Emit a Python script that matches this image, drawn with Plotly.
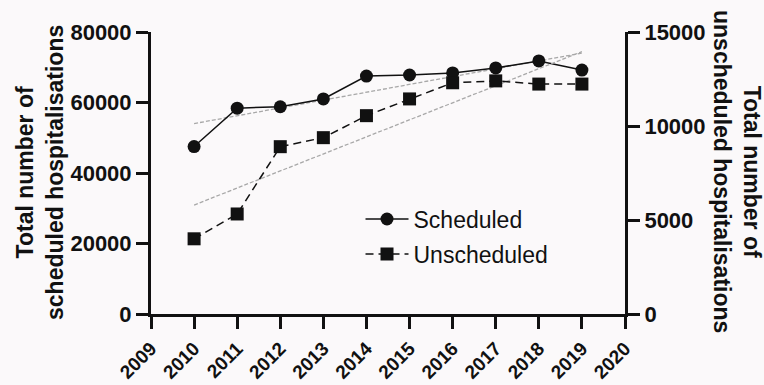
import numpy as np
import plotly.graph_objects as go

years = [2010, 2011, 2012, 2013, 2014, 2015, 2016, 2017, 2018, 2019]
scheduled = [47500, 58400, 58800, 61000, 67500, 67800, 68400, 69800, 71800, 69200]
unscheduled = [4000, 5320, 8900, 9380, 10550, 11440, 12300, 12400, 12230, 12230]
x_ticks = list(range(2009, 2021))
left_ticks = [0, 20000, 40000, 60000, 80000]
right_ticks = [0, 5000, 10000, 15000]

FONT = "Liberation Sans, Arial, sans-serif"
INK = "#111111"
BG = "#fbf9fa"

# linear trend for each series
s_fit = np.polyfit(years, scheduled, 1)
u_fit = np.polyfit(years, unscheduled, 1)
trend_x = [years[0], years[-1]]

fig = go.Figure()

fig.add_trace(go.Scatter(
    x=trend_x, y=np.polyval(s_fit, trend_x), mode="lines",
    line=dict(color="#a8a8a8", width=1.3, dash="4px,2px"),
    showlegend=False, hoverinfo="skip"))
fig.add_trace(go.Scatter(
    x=trend_x, y=np.polyval(u_fit, trend_x), mode="lines", yaxis="y2",
    line=dict(color="#a8a8a8", width=1.3, dash="4px,2px"),
    showlegend=False, hoverinfo="skip"))

fig.add_trace(go.Scatter(
    x=years, y=scheduled, name="Scheduled", mode="lines+markers",
    line=dict(color=INK, width=1.5),
    marker=dict(symbol="circle", size=13, color=INK),
    legendgroup="a"))
fig.add_trace(go.Scatter(
    x=years, y=unscheduled, name="Unscheduled", mode="lines+markers", yaxis="y2",
    line=dict(color=INK, width=1.5, dash="8px,5px"),
    marker=dict(symbol="square", size=13, color=INK),
    legendgroup="b"))

axis_common = dict(
    showgrid=False, zeroline=False, showline=True, linecolor=INK, linewidth=3,
    ticks="outside", ticklen=12, tickwidth=3, tickcolor=INK, automargin=False,
)

fig.update_layout(
    width=764, height=385,
    margin=dict(l=151, r=139, t=32, b=71),
    paper_bgcolor=BG, plot_bgcolor=BG,
    font=dict(family=FONT, color=INK),
    xaxis=dict(
        **axis_common, range=[2009, 2020], tickvals=x_ticks,
        ticktext=[str(v) for v in x_ticks], tickangle=-45, ticklabelstandoff=1,
        tickfont=dict(size=19, weight="bold", family=FONT, color=INK),
    ),
    yaxis=dict(
        **axis_common, range=[0, 80000], tickvals=left_ticks, tickformat="d",
        tickfont=dict(size=22, weight="bold", family=FONT, color=INK),
    ),
    yaxis2=dict(
        **axis_common, range=[0, 15000], tickvals=right_ticks, tickformat="d",
        overlaying="y", side="right", anchor="x",
        tickfont=dict(size=22, weight="bold", family=FONT, color=INK),
    ),
    legend=dict(
        x=0.442, y=0.413, xanchor="left", yanchor="top",
        bgcolor="rgba(0,0,0,0)", tracegroupgap=2, itemwidth=43,
        font=dict(size=23, family=FONT, color=INK),
    ),
    annotations=[
        dict(text="Total number of<br>scheduled hospitalisations", textangle=-90,
             xref="paper", yref="paper", x=-0.233, y=0.502,
             xanchor="center", yanchor="middle", showarrow=False,
             font=dict(size=23, weight="bold", family=FONT, color=INK)),
        dict(text="Total number of<br>unscheduled hospitalisations", textangle=90,
             xref="paper", yref="paper", x=1.2375, y=0.505,
             xanchor="center", yanchor="middle", showarrow=False,
             font=dict(size=23, weight="bold", family=FONT, color=INK)),
    ],
)

fig.write_html("out.html")
